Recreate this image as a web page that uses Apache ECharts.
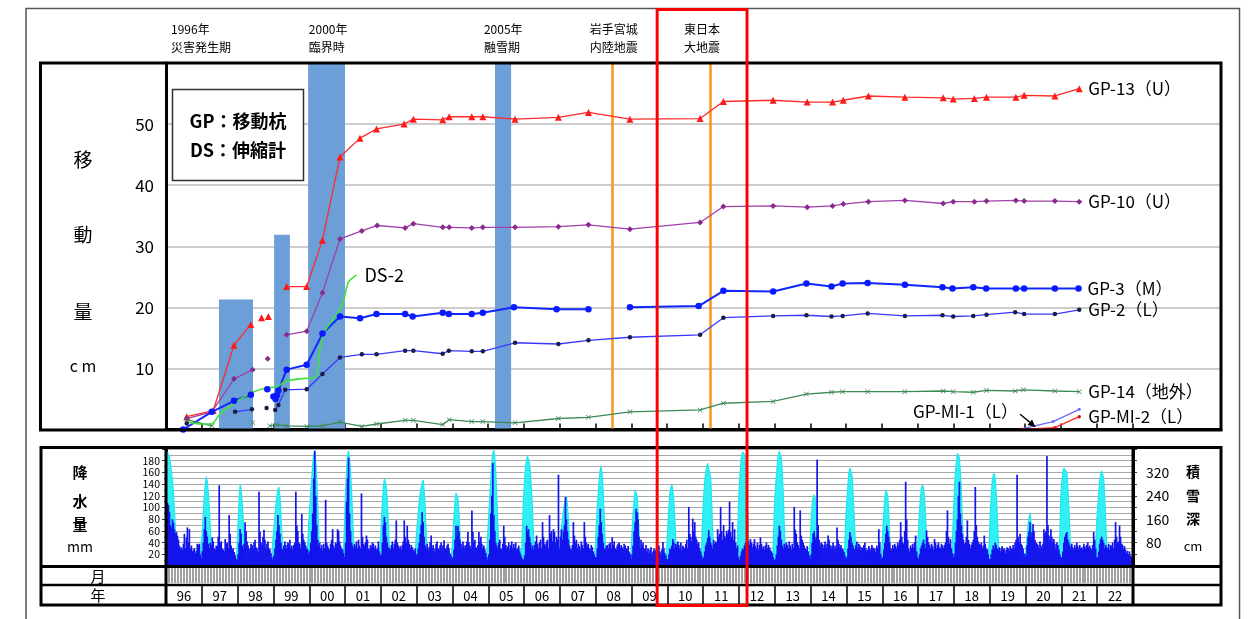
<!DOCTYPE html>
<html><head><meta charset="utf-8">
<script src="https://cdn.jsdelivr.net/npm/echarts@6/dist/echarts.min.js"></script>
<style>html,body{margin:0;padding:0;background:#fff}#c{width:1258px;height:619px}</style>
</head><body><div id="c"></div>
<script>
// ---------------- DATA ----------------
const startYear = 1996;
const yearLabels = ['96','97','98','99','00','01','02','03','04','05','06','07','08','09','10','11','12','13','14','15','16','17','18','19','20','21','22'];

// movement (cm) : [decimal year, value], null = break in line
const gp13 = [[1996.58,2.1],[1997.32,3.1],[1997.90,13.8],[1998.37,17.2],null,[1998.67,18.3],null,[1998.86,18.5],null,[1999.37,23.4],[1999.93,23.4],[2000.37,31.0],[2000.86,44.6],[2001.42,47.7],[2001.88,49.2],[2002.65,50.0],[2002.91,50.8],[2003.73,50.7],[2003.91,51.2],[2004.54,51.2],[2004.85,51.2],[2005.75,50.8],[2006.96,51.1],[2007.80,51.9],[2008.96,50.8],[2010.92,50.9],[2011.57,53.7],[2012.96,53.9],[2013.91,53.6],[2014.62,53.6],[2014.92,53.9],[2015.62,54.6],[2016.64,54.4],[2017.71,54.3],[2017.99,54.1],[2018.58,54.2],[2018.92,54.4],[2019.74,54.4],[2019.97,54.7],[2020.83,54.6],[2021.51,55.8]];
const gp10 = [[1996.58,1.8],[1997.28,2.9],[1997.90,8.3],[1998.42,9.8],null,[1998.84,11.6],null,[1999.37,15.5],[1999.93,16.1],[2000.37,22.4],[2000.86,31.2],[2001.47,32.5],[2001.90,33.4],[2002.68,33.0],[2002.91,33.7],[2003.73,33.1],[2003.91,33.1],[2004.54,33.0],[2004.85,33.1],[2005.75,33.1],[2006.96,33.2],[2007.80,33.5],[2008.96,32.8],[2010.92,33.9],[2011.57,36.5],[2012.96,36.6],[2013.91,36.4],[2014.62,36.6],[2014.92,36.9],[2015.62,37.3],[2016.64,37.5],[2017.71,37.0],[2017.99,37.3],[2018.58,37.3],[2018.92,37.4],[2019.74,37.5],[2019.97,37.4],[2020.83,37.4],[2021.51,37.3]];
const gp3 = [[1996.48,0],[1997.28,2.9],[1997.90,4.7],[1998.37,5.7],null,[1998.83,6.6],null,[1999.00,5.4],[1999.06,5.0],[1999.10,5.6],[1999.14,6.4],[1999.37,9.8],[1999.93,10.6],[2000.37,15.7],[2000.86,18.5],[2001.42,18.2],[2001.88,18.9],[2002.68,18.9],[2002.89,18.5],[2003.73,19.1],[2003.90,18.9],[2004.54,18.9],[2004.85,19.1],[2005.72,20.0],[2006.91,19.7],[2007.80,19.7],null,[2008.96,20.0],[2010.88,20.2],[2011.57,22.7],[2012.96,22.6],[2013.89,23.9],[2014.59,23.4],[2014.90,23.9],[2015.60,24.0],[2016.64,23.7],[2017.69,23.3],[2017.97,23.1],[2018.55,23.3],[2018.91,23.1],[2019.74,23.1],[2019.97,23.1],[2020.83,23.1],[2021.49,23.1]];
const gp2 = [[1996.58,1.0],null,[1997.93,2.9],[1998.40,3.3],null,[1998.81,3.5],null,[1999.05,3.2],[1999.14,4.0],[1999.33,6.5],[1999.93,6.6],[2000.37,9.1],[2000.86,11.8],[2001.47,12.3],[2001.88,12.3],[2002.68,12.9],[2002.91,12.9],[2003.73,12.4],[2003.90,12.9],[2004.54,12.8],[2004.85,12.8],[2005.75,14.2],[2006.96,14.0],[2007.80,14.6],[2008.96,15.1],[2010.92,15.5],[2011.57,18.3],[2012.96,18.6],[2013.89,18.7],[2014.59,18.5],[2014.90,18.6],[2015.60,19.0],[2016.64,18.6],[2017.69,18.7],[2017.99,18.5],[2018.55,18.6],[2018.92,18.8],[2019.72,19.2],[2019.97,18.9],[2020.83,18.9],[2021.51,19.6]];
const gp14 = [[1996.58,1.6],[1997.28,0.6],null,[1998.42,1.1],null,[1998.90,0.6],[1999.10,0.8],[1999.37,0.6],[1999.93,0.5],[2000.37,0.6],[2000.86,1.2],[2001.47,0.5],[2001.88,0.9],[2002.68,1.5],[2002.91,1.5],[2003.73,0.8],[2003.91,1.6],[2004.54,1.3],[2004.85,1.3],[2005.75,1.1],[2006.96,1.8],[2007.80,2.0],[2008.96,2.9],[2010.92,3.2],[2011.57,4.3],[2012.96,4.6],[2013.89,5.8],[2014.59,6.1],[2014.90,6.2],[2015.60,6.2],[2016.64,6.2],[2017.71,6.3],[2017.99,6.2],[2018.55,6.1],[2018.92,6.4],[2019.72,6.3],[2019.95,6.5],[2020.83,6.3],[2021.51,6.2]];
const ds2 = [[1996.55,1.3],[1996.90,0.9],[1997.28,0.9],[1997.50,2.5],[1997.90,4.3],[1998.42,6.1],[1998.81,6.8],[1999.10,7.0],[1999.37,8.0],[1999.93,8.4],[2000.20,8.7],[2000.30,13.1],[2000.40,15.8],[2000.86,19.7],[2000.97,21.3],[2001.09,24.1],[2001.32,25.3]];
const gpMI1 = [[2019.90,0.1],[2020.78,1.3],[2021.51,3.3]];
const gpMI2 = [[2019.90,0.0],[2020.83,0.3],[2021.51,2.1]];

// highlighted periods: [start, end, height cm]
const periods = [[1997.48,1998.43,21.3],[1999.02,1999.46,31.9],[1999.97,2001.00,60],[2005.19,2005.64,60]];
// earthquakes (orange lines)
const quakes = [2008.47, 2011.19];
// red highlight span
const redSpan = [2009.72, 2012.23];
// event captions above the chart
const eventT = [1996.14, 1999.99, 2004.88, 2007.84, 2010.47];
const eventLine1 = ['1996年','2000年','2005年','岩手宮城','東日本'];
const eventLine2 = ['災害発生期','臨界時','融雪期','内陸地震','大地震'];

// precipitation (mm), ~10-day bins, one row per year 1996..2022
const precipByYear = [
[60,108,104,92,70,66,80,74,62,56,58,52,45,35,30,32,28,38,55,30,48,66,40,63,30,35,25,28,30,22,26,38,36,38,20,14],
[25,40,63,84,60,50,38,30,40,35,49,42,30,28,35,34,50,138,40,42,30,28,25,46,38,40,30,87,55,35,28,30,24,18,12,10],
[20,40,63,55,35,30,38,75,60,42,35,28,30,38,36,30,40,45,32,30,24,127,58,40,35,50,62,45,30,38,42,30,28,22,15,10],
[18,30,45,60,87,70,55,40,30,28,35,42,36,30,40,38,45,30,35,28,36,40,127,69,60,40,38,30,89,55,45,40,35,30,28,20],
[25,40,60,90,150,197,120,70,45,35,40,30,36,28,38,30,113,40,35,30,28,38,45,63,35,30,40,38,63,60,42,35,30,28,22,15],
[40,110,150,185,90,60,40,35,30,38,34,42,30,45,35,30,124,50,38,35,40,52,45,30,28,36,33,40,38,30,35,28,30,42,25,18],
[20,40,70,84,75,50,40,32,30,28,36,42,30,38,45,78,40,35,30,34,28,36,42,78,50,40,69,45,38,30,36,32,28,25,30,20],
[20,30,40,55,70,92,75,50,35,30,38,28,32,40,52,30,36,25,30,38,42,30,28,35,40,30,36,44,30,28,35,38,30,22,18,12],
[15,28,45,69,50,69,60,45,38,30,42,35,30,36,42,58,40,35,30,95,58,40,45,32,30,36,58,42,50,38,30,35,28,22,15,10],
[20,45,90,120,176,87,60,40,35,30,40,45,30,28,38,69,50,36,30,34,40,28,36,42,30,38,32,40,28,30,35,25,20,15,12,10],
[18,40,69,60,63,50,40,30,35,28,36,42,52,38,30,40,45,30,75,50,38,35,42,45,30,87,55,60,42,63,58,40,50,45,156,30],
[50,63,45,60,70,118,80,60,45,35,30,28,36,75,52,40,45,30,38,34,28,42,36,30,75,50,40,35,38,30,28,36,32,25,20,15],
[15,30,50,70,98,75,55,40,30,28,34,36,30,38,40,30,49,36,42,30,28,35,38,40,30,36,32,28,38,35,30,28,34,25,20,12],
[20,35,60,75,98,92,80,50,30,45,35,40,28,30,36,25,30,22,28,32,20,25,30,26,28,22,30,35,25,20,28,41,30,22,18,12],
[12,20,30,28,35,46,40,30,38,34,42,36,30,40,28,35,32,30,38,45,30,101,55,50,42,81,60,75,50,45,38,40,30,25,18,12],
[15,25,35,40,48,61,50,40,36,30,45,38,42,40,63,50,55,101,60,45,70,52,48,60,55,62,110,58,50,75,45,63,40,30,35,15],
[10,18,25,30,28,35,40,30,38,42,36,46,40,32,38,46,35,30,40,28,36,49,38,30,34,28,35,40,30,36,32,28,25,22,15,10],
[12,20,35,50,69,60,45,35,30,38,32,40,36,30,42,35,28,38,30,101,62,55,40,36,30,95,52,45,40,35,30,28,34,25,18,12],
[20,40,55,60,45,50,182,70,45,35,40,38,30,36,42,30,38,52,45,36,30,34,40,28,35,30,66,45,38,32,36,30,28,24,18,12],
[15,30,45,58,50,40,35,30,28,36,42,30,38,35,28,32,30,36,40,30,25,28,34,30,26,36,32,28,30,24,35,30,63,40,20,12],
[15,28,40,55,69,60,50,40,30,28,36,30,38,34,30,40,36,45,75,50,40,38,60,144,80,45,30,25,35,30,38,32,40,52,25,15],
[12,20,30,35,40,45,38,30,61,50,40,36,30,38,34,28,46,40,30,36,40,32,30,38,35,30,36,40,60,95,50,38,46,30,22,15],
[20,40,60,80,120,144,90,70,55,45,38,40,50,78,45,38,30,36,40,45,60,135,70,50,42,38,36,40,30,35,52,38,30,28,20,12],
[12,20,28,35,30,40,36,30,28,32,25,30,34,28,30,22,28,32,30,26,34,30,28,36,30,40,45,156,50,40,55,38,35,30,22,15],
[20,35,50,60,75,50,58,72,60,45,40,38,36,30,42,35,30,38,63,55,60,188,70,52,45,63,50,40,46,38,30,40,36,28,20,15],
[15,25,40,50,55,58,45,40,35,30,38,32,28,36,30,40,34,28,36,30,32,28,38,34,30,36,40,32,35,30,28,36,58,45,30,15],
[15,25,38,46,50,45,40,30,36,32,30,38,28,36,34,40,30,45,75,50,40,42,69,50,38,36,30,34,28,22,26,20,25,18,15,10]
];

// snow depth (cm): first 12 ten-day bins (Jan-Apr) and last 3 bins (late Dec) of each year
const snowEarly = [
[380,390,385,370,350,320,290,250,190,120,40,0],
[120,180,240,280,305,290,250,200,130,60,10,0],
[150,230,280,260,220,170,110,50,10,0,0,0],
[130,170,210,240,260,270,240,180,110,40,0,0],
[200,250,300,350,380,393,360,300,220,120,30,0],
[250,330,380,393,370,320,260,180,90,20,0,0],
[150,220,270,300,305,270,220,150,70,10,0,0],
[140,180,220,250,270,285,294,260,200,120,40,0],
[110,170,220,250,254,230,180,110,40,0,0,0],
[180,240,300,350,385,396,370,320,240,150,60,0],
[300,340,365,375,379,350,310,250,180,100,30,0],
[90,130,160,190,210,225,237,210,160,90,20,0],
[140,200,250,300,330,340,310,250,170,80,10,0],
[120,180,230,260,266,240,190,120,50,0,0,0],
[140,200,250,270,277,260,220,160,90,20,0,0],
[240,290,320,340,351,345,350,300,220,120,40,0],
[290,340,375,390,396,380,340,280,200,110,30,0],
[260,310,350,380,392,396,370,320,240,140,50,0],
[160,210,235,243,230,190,130,60,10,0,0,0],
[230,280,320,335,340,310,260,190,110,30,0,0],
[120,180,230,260,266,240,180,100,30,0,0,0],
[130,190,240,270,277,265,230,170,90,20,0,0],
[260,320,360,385,391,370,320,250,160,70,10,0],
[180,240,290,310,317,300,250,180,100,30,0,0],
[60,100,140,165,180,150,110,60,20,0,0,0],
[290,320,335,340,338,320,270,200,120,40,0,0],
[200,250,290,315,325,329,300,240,160,80,20,0]
];
const snowLate = [
[0,30,80],[0,20,70],[0,40,90],[30,80,150],[0,60,150],[0,0,80],[0,40,100],[0,0,60],[0,50,120],[60,150,240],
[0,0,50],[0,0,60],[0,0,50],[0,0,70],[0,80,180],[0,100,220],[0,90,200],[0,0,80],[0,90,180],[0,0,60],
[0,0,60],[0,80,180],[0,0,80],[0,0,30],[0,120,240],[0,60,150],[0,0,40]
];

// ---------------- BUILD ----------------
const FF = "'Noto Sans CJK JP','Noto Sans',sans-serif";
function toLine(arr){
  const out=[]; let last=null;
  arr.forEach(p=>{ if(p){ out.push([p[0],p[1]]); last=p[0]; } else { out.push([last,'-']); } });
  return out;
}
const precipData=[];
precipByYear.forEach((row,i)=>{ const y=startYear+i; row.forEach((v,b)=>precipData.push([y+(b+0.5)/row.length, v])); });
const snowData=[];
snowEarly.forEach((row,i)=>{ const y=startYear+i;
  row.forEach((v,b)=>snowData.push([y+(b+0.5)/36, v]));
  snowLate[i].forEach((v,b)=>snowData.push([y+(33+b+0.5)/36, v]));
});
const endYear = startYear + yearLabels.length;
const yearTicks=[]; for(let y=startYear;y<=endYear;y++) yearTicks.push(y);
const midYears = yearLabels.map((_,i)=>startYear+i+0.5);
const monthTicks=[]; for(let y=startYear;y<endYear;y++) for(let m=0;m<12;m++) monthTicks.push(y+m/12); monthTicks.push(endYear);

const crossPath='path://M0,1L1,0L5,4L9,0L10,1L6,5L10,9L9,10L5,6L1,10L0,9L4,5Z';
function gpSeries(name,data,o){
  return Object.assign({
    name, type:'line', xAxisIndex:0, yAxisIndex:0, data:toLine(data), z:5,
    showAllSymbol:true, connectNulls:false,
    endLabel:{show:true, formatter:name, distance:9, fontSize:17, color:'#000', fontFamily:FF}
  },o);
}

const chart = echarts.init(document.getElementById('c'), null, {renderer:'canvas'});
const option = {
  animation:false,
  backgroundColor:'#fff',
  textStyle:{fontFamily:FF},
  grid:[
    {left:166, right:37, top:63, bottom:189.5},
    {left:166, right:125, top:449, height:117},
    {left:166, right:125, top:585, height:1}
  ],
  xAxis:[
    {type:'value', gridIndex:0, position:'top', min:startYear, max:2025.47, interval:1,
     axisLine:{show:true, lineStyle:{color:'#000', width:3}},
     axisTick:{show:true, customValues:yearTicks, length:6, lineStyle:{color:'#000', width:1.5}},
     axisLabel:{show:false}, splitLine:{show:false}},
    {type:'value', gridIndex:1, position:'bottom', min:startYear, max:endYear, interval:1,
     axisLine:{show:true, lineStyle:{color:'#000', width:3}},
     axisTick:{show:true, customValues:monthTicks, length:17, lineStyle:{color:'#8a8a8a', width:1.6}},
     axisLabel:{show:false}, splitLine:{show:false}},
    {type:'value', gridIndex:2, position:'bottom', min:startYear, max:endYear, interval:1,
     axisLine:{show:false},
     axisTick:{show:true, customValues:yearTicks, length:19, lineStyle:{color:'#000', width:1.5}},
     axisLabel:{show:true, customValues:midYears, margin:4, fontSize:13, color:'#000',
       formatter:v=>yearLabels[Math.floor(v)-startYear] || ''},
     splitLine:{show:false}}
  ],
  yAxis:[
    {type:'value', gridIndex:0, min:0, max:60, interval:10,
     axisLine:{show:true, lineStyle:{color:'#000', width:3}}, axisTick:{show:false},
     axisLabel:{fontSize:17, color:'#000', margin:12, formatter:v=>(v>0&&v<60)?v:''},
     splitLine:{show:true, lineStyle:{color:'#bcbcbc', width:1.5}}},
    {type:'value', gridIndex:1, position:'left', min:0, max:200, interval:20,
     axisLine:{show:true, lineStyle:{color:'#000', width:3}},
     axisTick:{show:true, length:4, lineStyle:{color:'#333'}},
     minorTick:{show:true, splitNumber:2, length:2, lineStyle:{color:'#333'}},
     axisLabel:{fontSize:10.5, color:'#000', margin:6, lineHeight:10, formatter:v=>(v>0&&v<200)?v:''},
     splitLine:{show:false}},
    {type:'value', gridIndex:1, position:'right', min:0, max:400, interval:40,
     axisLine:{show:true, lineStyle:{color:'#000', width:3}},
     axisTick:{show:true, length:4, lineStyle:{color:'#333'}},
     minorTick:{show:false, splitNumber:2},
     axisLabel:{fontSize:14, color:'#000', margin:13, formatter:v=>(v%80===0&&v>0&&v<400)?v:''},
     splitLine:{show:true, lineStyle:{color:'#a8a8a8', width:1}},
     minorSplitLine:{show:true, lineStyle:{color:'#a8a8a8', width:1}}},
    {type:'value', gridIndex:2, show:false}
  ],
  series:[
    {name:'periods', type:'line', xAxisIndex:0, yAxisIndex:0, data:[], z:1, silent:true,
     markArea:{silent:true, itemStyle:{color:'#6c9fd7', opacity:1},
       data:periods.map(p=>[{xAxis:p[0], yAxis:0},{xAxis:p[1], yAxis:p[2]}])},
     markLine:{silent:true, symbol:'none', label:{show:false},
       lineStyle:{color:'#f7961e', width:2.5, type:'solid'},
       data:quakes.map(t=>({xAxis:t}))}},
    gpSeries('GP-13（U）', gp13, {symbol:'triangle', symbolSize:7,
      lineStyle:{color:'#ff2a2a', width:1.3}, itemStyle:{color:'#ff1a1a'}}),
    gpSeries('GP-10（U）', gp10, {symbol:'diamond', symbolSize:6,
      lineStyle:{color:'#a040a8', width:1.3}, itemStyle:{color:'#8a2a90'}}),
    gpSeries('GP-3（M）', gp3, {symbol:'circle', symbolSize:6.5,
      lineStyle:{color:'#1028ff', width:2}, itemStyle:{color:'#0a1aff'}}),
    gpSeries('GP-2（L）', gp2, {symbol:'circle', symbolSize:4.5,
      lineStyle:{color:'#3a3aff', width:1.3}, itemStyle:{color:'#1c1c48'}}),
    gpSeries('GP-14（地外）', gp14, {symbol:crossPath, symbolSize:5,
      lineStyle:{color:'#3e8a55', width:1.3}, itemStyle:{color:'#3e8a55'}}),
    gpSeries('DS-2', ds2, {symbol:'none', smooth:0.2,
      lineStyle:{color:'#3ee23e', width:1.6},
      endLabel:{show:true, formatter:'DS-2', distance:8, fontSize:18, color:'#000', fontFamily:FF}}),
    gpSeries('GP-MI-1（L）', gpMI1, {symbol:'circle', symbolSize:3,
      lineStyle:{color:'#6a6aff', width:1.3}, itemStyle:{color:'#6a6aff'}, endLabel:{show:false}}),
    gpSeries('GP-MI-2（L）', gpMI2, {symbol:'circle', symbolSize:3.5,
      lineStyle:{color:'#ff2a2a', width:1.3}, itemStyle:{color:'#e01010'}}),
    {name:'積雪深', type:'line', xAxisIndex:1, yAxisIndex:2, data:snowData, symbol:'none', z:2,
     lineStyle:{color:'#22e6ee', width:1.2}, areaStyle:{color:'#30f0f5', opacity:1}},
    {name:'降水量', type:'bar', xAxisIndex:1, yAxisIndex:1, data:precipData, barWidth:1.7, z:3,
     itemStyle:{color:'#1414ee'}}
  ]
};
chart.setOption(option);

// ---------------- GRAPHIC OVERLAYS ----------------
const px0 = (t,v)=>chart.convertToPixel({gridIndex:0},[t,v]);
const g=[];
const rect=(x,y,w,h,stroke,lw,fill,z)=>({type:'rect', silent:true, z:z||50, shape:{x,y,width:w,height:h}, style:{fill:fill||'none', stroke, lineWidth:lw}});
const line=(x1,y1,x2,y2,stroke,lw,z)=>({type:'line', silent:true, z:z||60, shape:{x1,y1,x2,y2}, style:{stroke, lineWidth:lw}});
const text=(x,y,t,size,align,weight,z)=>({type:'text', silent:true, z:z||70, x, y,
  style:{text:t, fontSize:size, fill:'#000', align:align||'center', verticalAlign:'middle', fontWeight:weight||'normal', fontFamily:FF}});

// outer frame
g.push(rect(26,8.5,1213.5,640,'#555',1.5));
// top panel box
g.push(rect(40.5,63,1180.5,367,'#000',3));
// bottom panel box and rows
g.push(rect(41,447.5,1180,157.5,'#000',3));
g.push(line(166,447,166,605,'#000',3));
g.push(line(1133,447,1133,605,'#000',3));
g.push(line(41,566.5,1221,566.5,'#000',3));
g.push(line(41,585,1221,585,'#000',2.5));
// legend box
g.push(rect(172.5,89.5,131,91,'#333',1.5,'#fff',80));
g.push(text(238,121,'GP：移動杭',18,'center','bold',81));
g.push(text(238,150,'DS：伸縮計',18,'center','bold',81));
// y titles
g.push(text(83,160,'移',19));
g.push(text(83,235,'動',19));
g.push(text(83,312,'量',19));
g.push(text(83,366,'c m',16));
g.push(text(80,472,'降',15,'center','bold'));
g.push(text(80,501,'水',15,'center','bold'));
g.push(text(80,524,'量',15,'center','bold'));
g.push(text(80,547,'mm',14));
g.push(text(98,576,'月',15));
g.push(text(98,595,'年',15));
g.push(text(1193,472,'積',14,'center','bold'));
g.push(text(1193,496,'雪',14,'center','bold'));
g.push(text(1193,519,'深',14,'center','bold'));
g.push(text(1193,546,'cm',13));
// event captions
eventT.forEach((t,i)=>{
  const x=px0(t,60)[0];
  g.push(text(x,29,eventLine1[i],12,'left'));
  g.push(text(x,47,eventLine2[i],12,'left'));
});
// GP-MI-1 label + arrow
const lp = px0(2019.80, 2.9);
g.push(text(lp[0], lp[1], 'GP-MI-1（L）', 17, 'right'));
const a0 = px0(2019.86, 2.5), a1 = px0(2020.28, 0.45);
g.push(line(a0[0],a0[1],a1[0],a1[1],'#000',1.5,75));
const ang=Math.atan2(a1[1]-a0[1], a1[0]-a0[0]);
const ah=7, aw=3.5;
const bx=a1[0]-ah*Math.cos(ang), by=a1[1]-ah*Math.sin(ang);
g.push({type:'polygon', silent:true, z:76, shape:{points:[[a1[0],a1[1]],[bx+aw*Math.sin(ang),by-aw*Math.cos(ang)],[bx-aw*Math.sin(ang),by+aw*Math.cos(ang)]]}, style:{fill:'#000'}});
// red highlight box
const r1=px0(redSpan[0],0)[0], r2=px0(redSpan[1],0)[0];
g.push(rect(r1,9.5,r2-r1,596,'#ff0000',3,'none',100));

chart.setOption({graphic:{elements:g}});
</script></body></html>
